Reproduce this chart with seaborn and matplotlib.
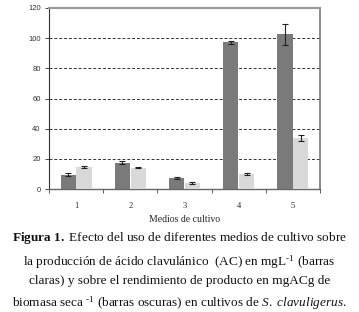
import matplotlib
matplotlib.use("Agg")
import matplotlib.pyplot as plt
import seaborn as sns
import pandas as pd
import numpy as np

# data
medios = ["1", "2", "3", "4", "5"]
rendimiento = [9.6, 17.4, 7.1, 97.2, 102.5]      # barras oscuras
rendimiento_err = [1.0, 1.0, 0.8, 0.9, 7.0]
produccion = [14.4, 14.1, 4.0, 10.0, 33.5]       # barras claras
produccion_err = [0.6, 0.5, 0.4, 0.9, 2.0]

df = pd.DataFrame({
    "medio": medios * 2,
    "valor": rendimiento + produccion,
    "serie": ["oscura"] * 5 + ["clara"] * 5,
})
errs = rendimiento_err + produccion_err

sns.set_style("white")
plt.rcParams["mathtext.fontset"] = "custom"
plt.rcParams["mathtext.rm"] = "Liberation Serif"
plt.rcParams["mathtext.bf"] = "Liberation Serif:bold"
plt.rcParams["mathtext.it"] = "Liberation Serif:italic"

fig = plt.figure(figsize=(3.59, 3.12), dpi=100)
ax = fig.add_axes([49 / 359, 1 - 189 / 312, 271 / 359, 181 / 312])

sns.barplot(data=df, x="medio", y="valor", hue="serie", ax=ax,
            palette={"oscura": "#7a7a7a", "clara": "#d9d9d9"},
            width=0.58, gap=0.04, errorbar=None, legend=False,
            edgecolor="none", zorder=3)

# error bars placed on the bar patches
bars = [p for p in ax.patches if p.get_height() > 0]
xs = [p.get_x() + p.get_width() / 2 for p in bars]
ys = [p.get_height() for p in bars]
ax.errorbar(xs, ys, yerr=errs, fmt="none", ecolor="#222222",
            elinewidth=0.8, capsize=2, capthick=0.8, zorder=4)

ax.set_ylim(0, 120)
ax.set_xlim(-0.5, 4.5)
ax.set_yticks(np.arange(0, 121, 20))
ax.tick_params(axis="y", labelsize=5.5, length=3, width=0.6, pad=3,
               left=True, labelcolor="#333333")
for lab in ax.get_yticklabels():
    lab.set_fontfamily("Liberation Sans")
ax.set_xticks(range(5))
ax.set_xticklabels(medios, fontsize=6, fontfamily="Liberation Serif")
ax.tick_params(axis="x", length=0, pad=9)
ax.set_xticks(np.arange(-0.5, 5, 1), minor=True)
ax.tick_params(axis="x", which="minor", length=3, width=0.6, bottom=True,
               color="#444444")

for y in range(20, 101, 20):
    ax.axhline(y, color="#333333", lw=0.7, ls=(0, (3, 2)), zorder=1)

ax.set_xlabel("Medios de cultivo", fontsize=7, fontfamily="Liberation Serif",
              labelpad=4)
ax.set_ylabel("")

ax.spines["left"].set_color("#333333")
ax.spines["left"].set_linewidth(0.8)
ax.spines["bottom"].set_color("#666666")
ax.spines["bottom"].set_linewidth(1.0)
ax.spines["top"].set_color("#999999")
ax.spines["top"].set_linewidth(1.5)
ax.spines["right"].set_color("#777777")
ax.spines["right"].set_linewidth(1.2)

caption = (r"$\mathbf{Figura}$ $\mathbf{1.}$ Efecto del uso de diferentes medios de cultivo sobre" "\n"
           r"la producción de ácido clavulánico  (AC) en mgL$^{\text{-1}}$ (barras" "\n"
           r"claras) y sobre el rendimiento de producto en mgACg de" "\n"
           r"biomasa seca $^{\text{-1}}$ (barras oscuras) en cultivos de $\mathit{S.}$ $\mathit{clavuligerus}$.")
fig.text(0.5, 1 - 271 / 312, caption, ha="center", va="center",
         fontsize=9.5, fontfamily="Liberation Serif", linespacing=1.55,
         color="#111111")

plt.savefig("out.png", dpi=100)
